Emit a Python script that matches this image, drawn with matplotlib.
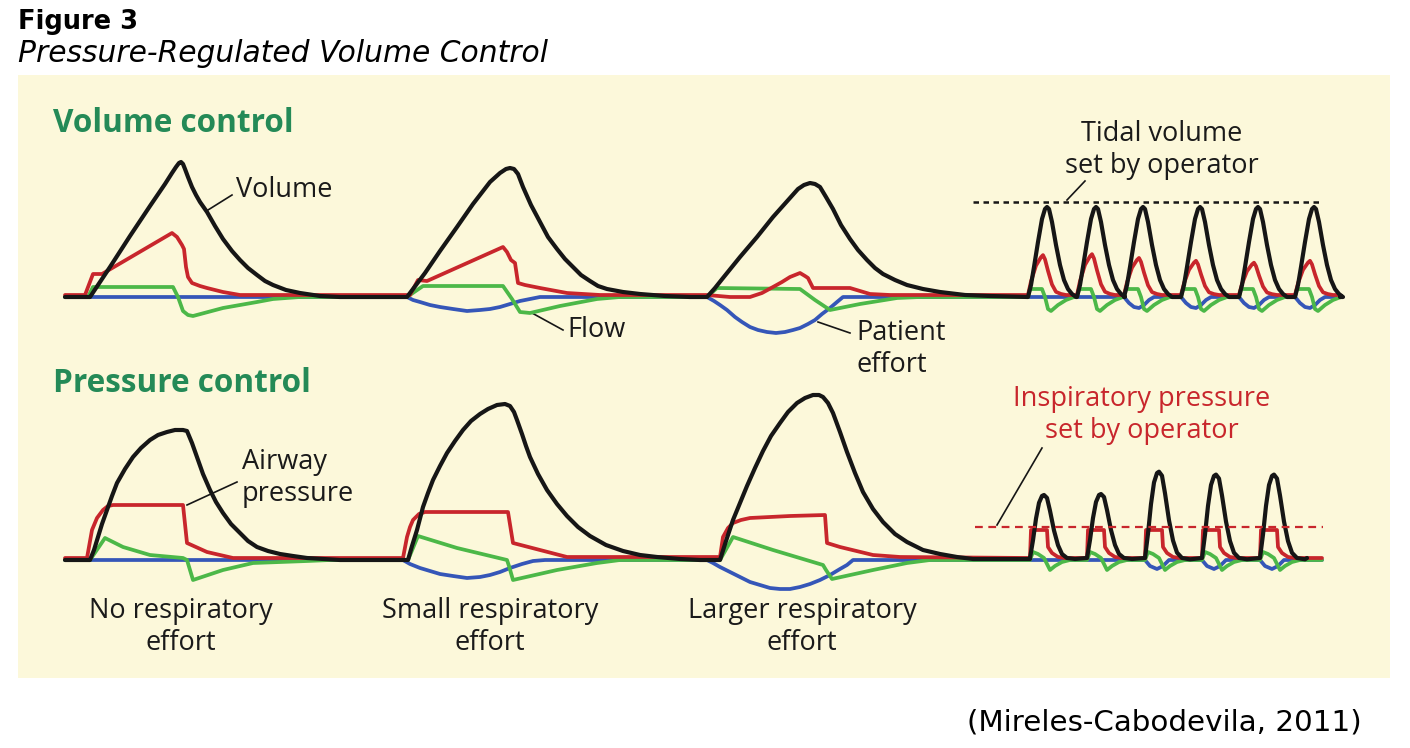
import matplotlib
matplotlib.use("Agg")
import matplotlib.pyplot as plt
import numpy as np

# -- colours -- #
BG = '#fcf8da'
BLACK = '#161616'
RED = '#c8262c'
GREEN = '#4cb848'
BLUE = '#3556b8'
TITLE_GREEN = '#248a57'

# -- baselines (pixel rows) -- #
TOP_BASE = 297
BOT_BASE = 560

# ---------------- Volume control (top) ---------------- #
# big breaths: (time, amplitude)
vc_vol_t = [65, 90, 110, 130, 150, 165, 172, 176, 179, 181, 183, 185, 188, 192, 196, 200, 207, 215, 223, 232, 240, 248,
            257, 265, 273, 286, 300, 320, 340,
            407, 425, 440, 457, 473, 490, 500, 506, 510, 514, 518, 523, 531, 540, 548, 557, 565, 573, 581, 590, 598,
            607, 623, 640, 665, 690,
            707, 715, 723, 740, 757, 773, 790, 798, 804, 810, 815, 820, 826, 833, 841, 850, 858, 867, 875, 883, 895,
            907, 923, 940, 965, 990]
vc_vol_a = [0, 0, 30, 61, 91, 113, 124, 130, 134, 135, 133, 128, 120, 110, 102, 95, 85, 71, 58, 46, 37, 29,
            22, 16, 12, 7, 4, 1, 0,
            0, 24, 46, 70, 93, 115, 124, 128, 129, 128, 123, 110, 92, 75, 60, 48, 38, 30, 22, 16, 11,
            8, 5, 3, 1, 0,
            0, 9, 19, 40, 60, 80, 99, 108, 112, 114, 113, 110, 100, 88, 72, 58, 47, 37, 29, 23, 17,
            12, 8, 5, 2, 1]

vc_paw_t = [65, 85, 93, 102, 172, 177, 182, 184, 186, 188, 192, 200, 207, 223, 240,
            410, 418, 427, 503, 507, 511, 515, 518, 525, 540, 567, 600,
            707, 730, 750, 762, 773, 782, 790, 800, 805, 808, 813, 823, 850, 860, 870, 890]
vc_paw_a = [2, 2, 23, 23, 64, 60, 52, 48, 30, 20, 14, 11, 9, 5, 2,
            2, 17, 16, 50, 45, 37, 34, 14, 12, 9, 4, 2,
            2, 0, 0, 4, 10, 15, 20, 24, 21, 19, 9, 9, 9, 6, 3, 2]

vc_flow_t = [65, 88, 93, 173, 178, 183, 188, 193, 208, 223, 240, 257, 273, 300,
             407, 423, 503, 512, 520, 530, 560, 597, 620,
             707, 717, 800, 815, 830, 860, 897, 920]
vc_flow_a = [0, 0, 10, 10, 0, -14, -18, -19, -15, -11, -8, -5, -2, 0,
             0, 11, 11, -2, -15, -16, -9, -2, 0,
             0, 9, 8, -3, -13, -7, -1, 0]

vc_effort_t = [65, 407, 413, 420, 430, 440, 453, 467, 480, 490, 500, 510, 520, 530, 540,
               707, 714, 720, 727, 735, 742, 750, 758, 767, 776, 785, 793, 800, 808, 815, 822, 830, 837, 843, 850]
vc_effort_a = [0, 0, -3, -5, -8, -10, -12, -14, -13, -12, -10, -7, -4, -2, 0,
               0, -4, -8, -13, -20, -25, -30, -33, -35, -36, -35, -33, -31, -27, -23, -17, -11, -5, 0, 0]

# small fast breaths on the right (one shape, onsets, peak heights)
vc_fast_onsets = [1028, 1077, 1124, 1181, 1239, 1295]
vc_fast_end = 1340
vc_fast_vol_t = [0, 3, 6, 10, 14, 17, 19, 21, 24, 28, 32, 36, 40, 44, 48]
vc_fast_vol_a = [0, 12, 30, 55, 78, 88, 90, 88, 75, 52, 32, 17, 8, 3, 0]
vc_fast_paw_t = [0, 3, 8, 13, 15, 17, 20, 24, 28, 33, 38]
vc_fast_paw_a = [2, 15, 30, 38, 40, 36, 25, 12, 5, 3, 2]
vc_fast_paw_peak = [42, 43, 39, 36, 34, 36]
vc_fast_flow_t = [0, 2, 14, 17, 20, 23, 30, 38, 46]
vc_fast_flow_a = [0, 8, 8, 0, -12, -14, -8, -3, 0]
vc_fast_eff_t = [0, 5, 10, 15, 20, 25, 30]
vc_fast_eff_a = [0, -6, -10, -11, -8, -3, 0]
vc_fast_eff_on = [0, 0, 1, 1, 1, 1]
tidal_volume_set = 95

# ---------------- Pressure control (bottom) ---------------- #
pc_vol_t = [65, 90, 94, 98, 102, 107, 112, 117, 125, 133, 141, 150, 158, 167, 175, 183, 187, 192, 197, 203, 210, 216,
            223, 231, 240, 248, 257, 268, 280, 293, 307, 340,
            408, 412, 417, 423, 428, 433, 440, 447, 455, 463, 471, 480, 488, 497, 505, 510, 514, 517, 522, 526, 530,
            538, 547, 557, 567, 578, 590, 606, 623, 640, 657, 680, 700,
            720, 726, 733, 740, 747, 755, 763, 771, 780, 788, 797, 805, 813, 819, 823, 828, 833, 840, 847, 855, 863,
            873, 883, 895, 907, 923, 940, 957, 973]
pc_vol_a = [0, 0, 10, 23, 36, 50, 64, 77, 91, 103, 112, 120, 125, 128, 130, 130, 129, 117, 103, 86, 70, 58,
            47, 36, 27, 19, 13, 9, 6, 4, 2, 0,
            0, 14, 30, 53, 67, 80, 94, 107, 119, 130, 139, 146, 151, 155, 156, 154, 148, 140, 126, 114, 103,
            86, 70, 56, 44, 33, 24, 15, 9, 5, 3, 1, 0,
            0, 19, 40, 57, 74, 92, 109, 124, 137, 148, 157, 162, 165, 165, 163, 157, 147, 128, 108, 87, 68,
            51, 38, 26, 18, 10, 6, 3, 1]

pc_paw_t = [65, 87, 92, 97, 103, 108, 113, 183, 187, 207, 233,
            403, 407, 410, 413, 419, 425, 508, 513, 540, 567,
            720, 723, 728, 733, 741, 750, 790, 825, 827, 840, 873, 900]
pc_paw_a = [2, 2, 30, 42, 50, 54, 55, 55, 17, 8, 2,
            2, 23, 33, 40, 46, 48, 48, 17, 10, 3,
            3, 23, 32, 37, 40, 42, 44, 45, 17, 13, 5, 3]

pc_flow_t = [65, 90, 105, 123, 150, 183, 187, 193, 223, 253, 307, 330,
             408, 418, 457, 507, 509, 513, 557, 597, 620,
             720, 733, 773, 823, 826, 832, 873, 907, 930]
pc_flow_a = [0, 0, 22, 13, 5, 2, 0, -20, -10, -3, -1, 0,
             0, 24, 12, 0, -6, -20, -10, -3, 0,
             0, 23, 10, -5, -10, -19, -10, -3, 0]

pc_effort_t = [65, 403, 410, 420, 430, 440, 453, 467, 480, 490, 500, 510, 522, 533, 545,
               707, 713, 720, 730, 740, 750, 760, 770, 780, 790, 800, 810, 820, 830, 840, 847, 853]
pc_effort_a = [0, 0, -4, -8, -11, -14, -16, -18, -17, -15, -12, -8, -4, -1, 0,
               0, -3, -7, -12, -17, -22, -25, -28, -29, -29, -27, -24, -20, -15, -9, -5, 0]

pc_fast_onsets = [1030, 1087, 1145, 1202, 1260]
pc_fast_end = 1322
pc_fast_vol_t = [0, 3, 6, 9, 12, 14, 17, 20, 24, 28, 32, 37, 45]
pc_fast_vol_a = [2, 20, 42, 58, 65, 66, 63, 50, 30, 15, 6, 2, 1]
pc_fast_vol_peak = [65, 66, 89, 86, 86]
pc_fast_paw_t = [0, 1, 17, 18, 22, 28, 35]
pc_fast_paw_a = [2, 30, 30, 13, 7, 3, 2]
pc_fast_flow_t = [0, 3, 8, 14, 17, 20, 25, 32, 40]
pc_fast_flow_a = [0, 8, 6, 2, -4, -10, -6, -2, 0]
pc_fast_eff_t = [0, 5, 12, 18, 24]
pc_fast_eff_a = [0, -6, -9, -6, 0]
pc_fast_eff_on = [0, 0, 1, 1, 1]
insp_pressure_set = 33

labels_bottom = ['No respiratory\neffort', 'Small respiratory\neffort', 'Larger respiratory\neffort']
labels_x = [181, 490, 802]


def fast_trace(onsets, t, a, end, peaks=None, on=None, flat=0.0):
    """chain copies of one small breath at each onset"""
    t = np.asarray(t, float)
    a = np.asarray(a, float)
    base_peak = a.max() if a.max() > 0 else a.min()
    xs, ys = [], []
    for i, o in enumerate(onsets):
        if on is not None and not on[i]:
            continue
        k = 1.0 if peaks is None else peaks[i] / base_peak
        xs.extend(o + t)
        ys.extend(flat + (a - flat) * k)
    xs.append(end)
    ys.append(flat)
    return np.array(xs), np.array(ys)


def draw(ax, base, t, a, color, lw=2.7, z=3):
    ax.plot(np.asarray(t), base - np.asarray(a), color=color, lw=lw,
            solid_joinstyle='round', solid_capstyle='round', zorder=z)


fig = plt.figure(figsize=(14.1, 7.48), dpi=100)
ax = fig.add_axes([0, 0, 1, 1])
ax.set_xlim(0, 1410)
ax.set_ylim(748, 0)
ax.axis('off')

ax.add_patch(plt.Rectangle((18, 75), 1372, 603, color=BG, zorder=0, lw=0))

# -- top panel traces -- #
ft, fa = fast_trace(vc_fast_onsets, vc_fast_eff_t, vc_fast_eff_a, vc_fast_end, on=vc_fast_eff_on)
draw(ax, TOP_BASE, vc_effort_t + [vc_fast_onsets[0]] + list(ft), vc_effort_a + [0] + list(fa), BLUE, z=2)
ft, fa = fast_trace(vc_fast_onsets, vc_fast_flow_t, vc_fast_flow_a, vc_fast_end)
draw(ax, TOP_BASE, vc_flow_t + list(ft), vc_flow_a + list(fa), GREEN, z=3)
ft, fa = fast_trace(vc_fast_onsets, vc_fast_paw_t, vc_fast_paw_a, vc_fast_end, peaks=vc_fast_paw_peak, flat=2)
draw(ax, TOP_BASE, vc_paw_t + list(ft), vc_paw_a + list(fa), RED, z=4)
ft, fa = fast_trace(vc_fast_onsets, vc_fast_vol_t, vc_fast_vol_a, vc_fast_end)
draw(ax, TOP_BASE, vc_vol_t + list(ft), vc_vol_a + list(fa), BLACK, lw=3.0, z=5)

ax.plot([973, 1322], [TOP_BASE - tidal_volume_set] * 2, color=BLACK, lw=1.8,
        ls=(0, (2.2, 1.8)), zorder=6)

# -- bottom panel traces -- #
ft, fa = fast_trace(pc_fast_onsets, pc_fast_eff_t, pc_fast_eff_a, pc_fast_end, on=pc_fast_eff_on)
draw(ax, BOT_BASE, pc_effort_t + [pc_fast_onsets[0]] + list(ft), pc_effort_a + [0] + list(fa), BLUE, z=2)
ft, fa = fast_trace(pc_fast_onsets, pc_fast_flow_t, pc_fast_flow_a, pc_fast_end)
draw(ax, BOT_BASE, pc_flow_t + list(ft), pc_flow_a + list(fa), GREEN, z=3)
ft, fa = fast_trace(pc_fast_onsets, pc_fast_paw_t, pc_fast_paw_a, pc_fast_end, flat=2)
draw(ax, BOT_BASE, pc_paw_t + list(ft), pc_paw_a + list(fa), RED, z=4)
ft, fa = fast_trace(pc_fast_onsets, pc_fast_vol_t, pc_fast_vol_a, 1307, peaks=pc_fast_vol_peak, flat=2)
draw(ax, BOT_BASE, pc_vol_t + [pc_fast_onsets[0]] + list(ft), pc_vol_a + [1] + list(fa), BLACK, lw=3.0, z=5)

ax.plot([975, 1323], [BOT_BASE - insp_pressure_set] * 2, color=RED, lw=1.6,
        ls=(0, (3.5, 2.5)), zorder=6)

# -- panel texts -- #
lab = dict(family='Open Sans', fontsize=19.5, color='#1a1a1a', zorder=7)
ax.text(53, 123, 'Volume control', family='Open Sans', fontsize=22.7, weight='bold',
        color=TITLE_GREEN, va='center', ha='left')
ax.text(53, 383, 'Pressure control', family='Open Sans', fontsize=22.7, weight='bold',
        color=TITLE_GREEN, va='center', ha='left')

ax.text(236, 190, 'Volume', va='center', ha='left', **lab)
ax.plot([208, 232], [210, 195], color=BLACK, lw=1.2)
ax.text(567, 330, 'Flow', va='center', ha='left', **lab)
ax.plot([532, 563], [313, 330], color=BLACK, lw=1.2)
ax.text(856, 349, 'Patient\neffort', va='center', ha='left', linespacing=1.15, **lab)
ax.plot([818, 850], [322, 333], color=BLACK, lw=1.2)
ax.text(1162, 150, 'Tidal volume\nset by operator', va='center', ha='center', linespacing=1.2, **lab)
ax.plot([1067, 1085], [200, 181], color=BLACK, lw=1.2)

ax.text(242, 478, 'Airway\npressure', va='center', ha='left', linespacing=1.15, **lab)
ax.plot([187, 237], [505, 482], color=BLACK, lw=1.2)
ax.text(1142, 415, 'Inspiratory pressure\nset by operator', va='center', ha='center',
        linespacing=1.2, family='Open Sans', fontsize=19.5, color=RED)
ax.plot([997, 1042], [525, 448], color=BLACK, lw=1.2)

for s, x in zip(labels_bottom, labels_x):
    ax.text(x, 627, s, va='center', ha='center', linespacing=1.15, **lab)

# -- figure title and source -- #
ax.text(18, 22, 'Figure 3', family='DejaVu Sans', fontsize=18.5, weight='bold',
        color='black', va='center', ha='left')
ax.text(18, 53, 'Pressure-Regulated Volume Control', family='DejaVu Sans', fontsize=21.4,
        style='italic', color='black', va='center', ha='left')
ax.text(1362, 722, '(Mireles-Cabodevila, 2011)', family='DejaVu Sans', fontsize=21.2,
        color='black', va='center', ha='right')

fig.savefig('out.png', dpi=100, facecolor='white')
